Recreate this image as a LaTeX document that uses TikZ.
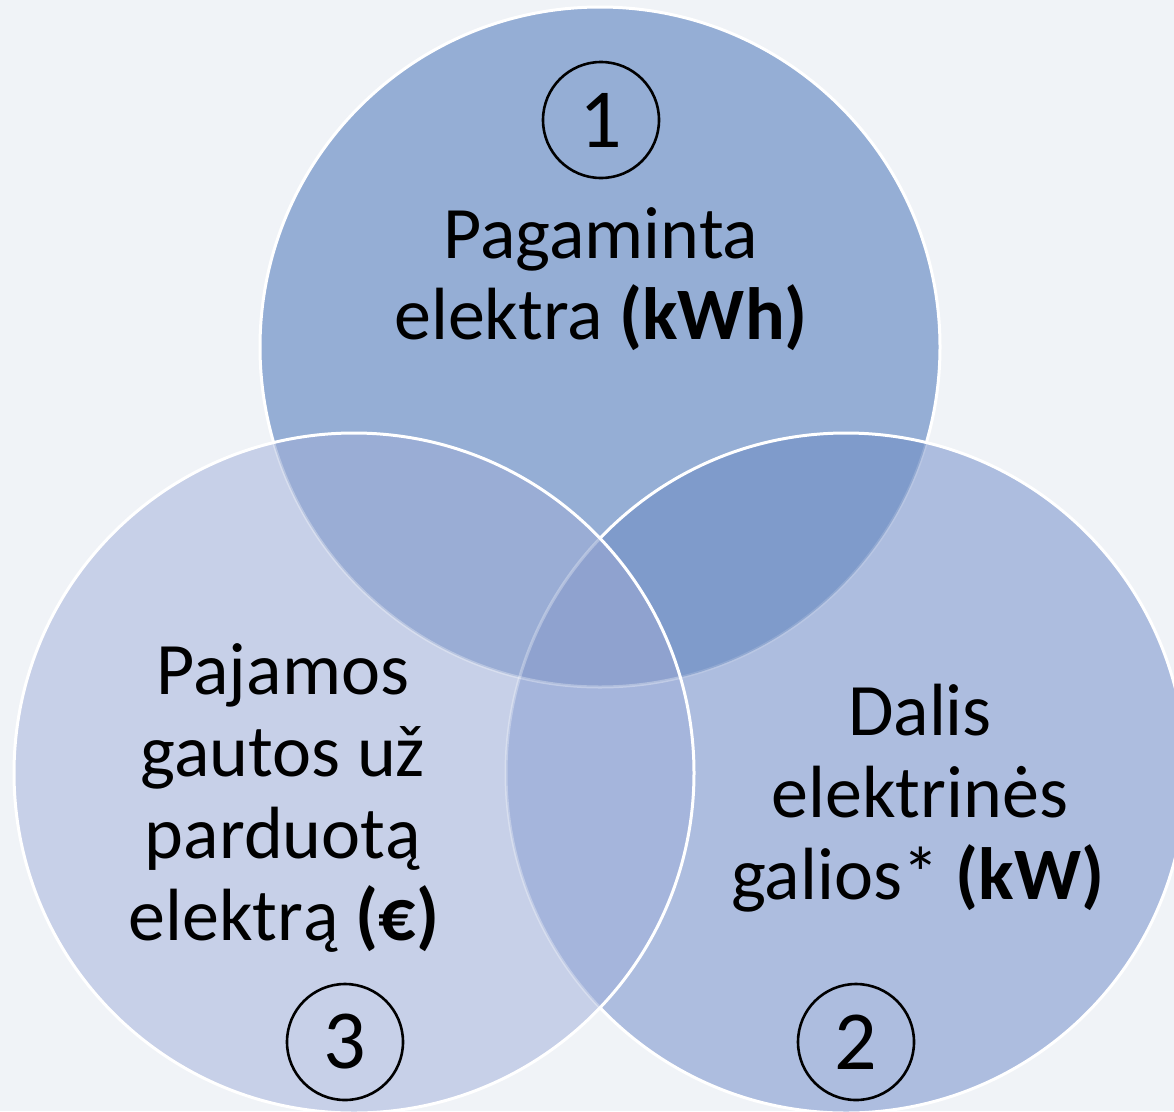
\documentclass[tikz,border=0pt]{standalone}
\usepackage{fontspec}
\setmainfont{Carlito}
\definecolor{bgc}{HTML}{F0F3F7}
\definecolor{cT}{HTML}{95AED5}
\definecolor{cL}{HTML}{C7D0E8}
\definecolor{cR}{HTML}{ADBDDF}
\definecolor{cTL}{HTML}{9AADD5}
\definecolor{cTR}{HTML}{7F9BCB}
\definecolor{cLR}{HTML}{A5B5DC}
\definecolor{cTLR}{HTML}{8FA2CF}
\tikzset{
  border/.style={draw=white, line width=3pt},
  faint/.style={draw=white, line width=3pt, draw opacity=#1},
  lbl/.style={anchor=base, inner sep=0pt, font=\fontsize{74}{82}\selectfont},
  numc/.style={circle, draw=black, line width=2.6pt, minimum size=116pt, inner sep=0pt, font=\fontsize{84}{90}\selectfont}
}
\newcommand{\topcirc}{(600,347) circle[radius=340pt]}
\newcommand{\leftcirc}{(354,773) circle[radius=340pt]}
\newcommand{\rightcirc}{(846,773) circle[radius=340pt]}
\begin{document}
\begin{tikzpicture}[x=1pt,y=-1pt]
\useasboundingbox (0,0) rectangle (1174,1111);
\fill[bgc] (0,0) rectangle (1174,1111);
\clip (0,0) rectangle (1174,1111);
% top circle
\fill[cT] \topcirc;
\path[border] \topcirc;
% right circle
\fill[cR] \rightcirc;
\begin{scope}
  \clip \topcirc;
  \fill[cTR] \rightcirc;
\end{scope}
\begin{scope}
  \clip \rightcirc;
  \path[faint=0.15] \topcirc;
\end{scope}
\path[border] \rightcirc;
% left circle
\fill[cL] \leftcirc;
\begin{scope}
  \clip \leftcirc;
  \begin{scope}
    \clip \topcirc;
    \fill[cTL] \leftcirc;
  \end{scope}
  \begin{scope}
    \clip \rightcirc;
    \fill[cLR] \leftcirc;
  \end{scope}
  \begin{scope}
    \clip \topcirc;
    \clip \rightcirc;
    \fill[cTLR] \leftcirc;
  \end{scope}
  \path[faint=0.3] \topcirc;
  \path[faint=0.3] \rightcirc;
\end{scope}
\path[border] \leftcirc;
% texts
\node[lbl] (t1) at (601,258) {Pagaminta};
\node[lbl] (t2) at (601,339) {elektra \textbf{(kWh)}};
\node[lbl] (l1) at (283,694) {Pajamos};
\node[lbl] (l2) at (283,776) {gautos už};
\node[lbl] (l3) at (283,858) {parduotą};
\node[lbl] (l4) at (284,940) {elektrą \textbf{(€)}};
\node[lbl] (r1) at (920,735) {Dalis};
\node[lbl] (r2) at (920,817) {elektrinės};
\node[lbl] (r3) at (918,899) {galios* \textbf{(kW)}};
% number badges
\node[numc] (n1) at (601,120) {1};
\node[numc] (n3) at (345,1042) {3};
\node[numc] (n2) at (856,1042) {2};
\end{tikzpicture}
\end{document}
